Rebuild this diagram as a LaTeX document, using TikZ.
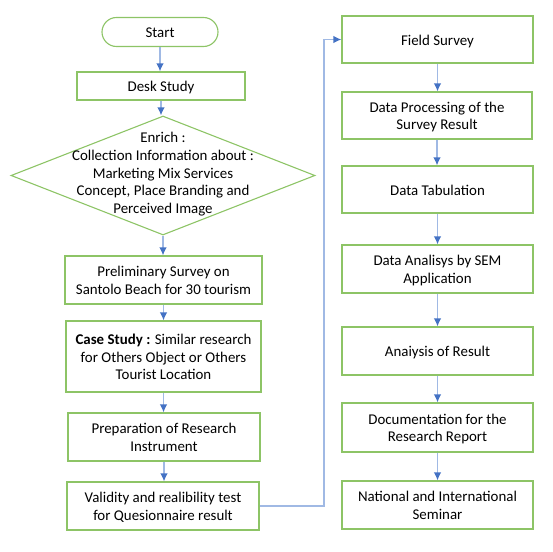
\documentclass[tikz,border=0pt]{standalone}
\usepackage{fontspec}
\setmainfont{Carlito}
\usetikzlibrary{shapes.geometric,arrows.meta}
\definecolor{boxgreen}{RGB}{141,196,102}
\definecolor{lineblue}{RGB}{160,185,228}
\definecolor{tipblue}{RGB}{68,114,196}
\newcommand{\boxtext}[1]{\raisebox{-2pt}[\height][\depth]{\begin{tabular}{@{}c@{}}#1\end{tabular}}}
\tikzset{
  box/.style={draw=boxgreen, line width=1.1pt, fill=white, inner sep=0pt,
    font=\fontsize{14.9}{17.7}\selectfont},
  conn/.style={draw=lineblue, line width=1.4pt, -{Latex[color=tipblue,length=8pt,width=7.5pt]}},
  txt/.style={inner sep=0pt, font=\fontsize{14.9}{17.7}\selectfont}
}
\begin{document}
\begin{tikzpicture}[x=1pt,y=-1pt]
\useasboundingbox (0,0) rectangle (553,551);
% left column
\node[box, minimum width=116pt, minimum height=29pt, rounded corners=14.5pt] (start) at (160,32) {\boxtext{Start}};
\node[box, minimum width=168pt, minimum height=28pt] (desk) at (161,86) {\boxtext{Desk Study}};
\node[diamond, draw=boxgreen, line width=1.1pt, minimum width=304pt, minimum height=119pt, inner sep=0pt] (enrich) at (163,175.5) {};
\node[txt] (enrichtxt) at (163,172.5) {\boxtext{Enrich :\\Collection Information about :\\Marketing Mix Services\\Concept, Place Branding and\\Perceived Image}};
\node[box, minimum width=197pt, minimum height=48pt] (prelim) at (163.5,280) {\boxtext{Preliminary Survey on\\Santolo Beach for 30 tourism}};
\node[box, minimum width=195pt, minimum height=71pt] (case) at (163.5,356.5) {\boxtext{\textbf{Case Study :} Similar research\\for Others Object or Others\\Tourist Location}};
\node[box, minimum width=192pt, minimum height=48pt] (prep) at (164,437) {\boxtext{Preparation of Research\\Instrument}};
\node[box, minimum width=192pt, minimum height=48pt] (valid) at (163,506) {\boxtext{Validity and realibility test\\for Quesionnaire result}};
% right column
\node[box, minimum width=191pt, minimum height=47pt] (field) at (437.5,39.5) {\boxtext{Field Survey}};
\node[box, minimum width=190pt, minimum height=47pt] (proc) at (437,115.5) {\boxtext{Data Processing of the\\Survey Result}};
\node[box, minimum width=191pt, minimum height=47pt] (tab) at (437.5,189.5) {\boxtext{Data Tabulation}};
\node[box, minimum width=191pt, minimum height=48pt] (anal) at (437.5,269) {\boxtext{Data Analisys by SEM\\Application}};
\node[box, minimum width=191pt, minimum height=48pt] (res) at (437.5,351) {\boxtext{Anaiysis of Result}};
\node[box, minimum width=191pt, minimum height=49pt] (doc) at (437.5,427.5) {\boxtext{Documentation for the\\Research Report}};
\node[box, minimum width=191pt, minimum height=48pt] (nat) at (437.5,505) {\boxtext{National and International\\Seminar}};
% connectors
\draw[conn] (start.south) -- (start.south |- desk.north);
\draw[conn] (desk.south) -- (desk.south |- enrich.north);
\draw[conn] (enrich.south) -- (enrich.south |- prelim.north);
\draw[conn] (prelim.south) -- (prelim.south |- case.north);
\draw[conn] (case.south) -- (case.south |- prep.north);
\draw[conn] (prep.south) -- (prep.south |- valid.north);
\coordinate (turnlow) at (324,506);
\coordinate (turnhigh) at (324,39.5);
\draw[conn] (valid.east) -- (turnlow) -- (turnhigh) -- (field.west);
\draw[conn] (field.south) -- (field.south |- proc.north);
\draw[conn] (proc.south) -- (proc.south |- tab.north);
\draw[conn] (tab.south) -- (tab.south |- anal.north);
\draw[conn] (anal.south) -- (anal.south |- res.north);
\draw[conn] (res.south) -- (res.south |- doc.north);
\draw[conn] (doc.south) -- (doc.south |- nat.north);
\end{tikzpicture}
\end{document}
